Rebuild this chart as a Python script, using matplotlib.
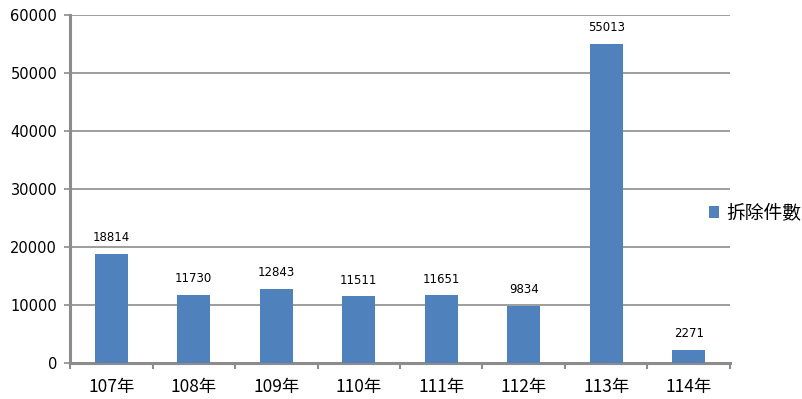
import matplotlib
matplotlib.use('Agg')
import matplotlib.pyplot as plt
import numpy as np

# data
years = ['107年', '108年', '109年', '110年', '111年', '112年', '113年', '114年']
counts = [18814, 11730, 12843, 11511, 11651, 9834, 55013, 2271]
series_name = '拆除件數'
y_ticks = [0, 10000, 20000, 30000, 40000, 50000, 60000]

bar_color = '#4F81BD'
grid_color = '#8C8C8C'
cjk = ['Noto Sans CJK TC', 'DejaVu Sans']

fig = plt.figure(figsize=(8.02, 3.99), dpi=100)
ax = fig.add_axes([0.0873, 0.0902, 0.8229, 0.8722])

x = np.arange(len(years))
bars = ax.bar(x, counts, width=0.4, color=bar_color, label=series_name, zorder=3)

# value labels above each bar
for xi, v in zip(x, counts):
  ax.annotate(str(v), (xi, v), xytext=(0, 7), textcoords='offset points',
              ha='center', va='bottom', fontsize=8.5, family='DejaVu Sans')

ax.set_xlim(-0.5, len(years) - 0.5)
ax.set_ylim(0, 60000)
ax.set_yticks(y_ticks)
ax.set_yticklabels([str(t) for t in y_ticks], fontsize=10.5)
ax.yaxis.grid(True, color=grid_color, linewidth=1.2, zorder=0)

# category labels centred, tick marks between categories
ax.set_xticks(x)
ax.set_xticklabels(years, fontsize=12.5, family=cjk)
ax.set_xticks(np.arange(-0.5, len(years)), minor=True)
ax.tick_params(axis='x', which='major', length=0, pad=11)
ax.tick_params(axis='x', which='minor', length=4.3, width=1.5, color=grid_color)
ax.tick_params(axis='y', length=4.3, width=1.2, color=grid_color, pad=5)

for side in ['top', 'right']:
  ax.spines[side].set_visible(False)
for side in ['left', 'bottom']:
  ax.spines[side].set_color(grid_color)
  ax.spines[side].set_linewidth(2.2)

leg = ax.legend(loc='center left', bbox_to_anchor=(0.968, 0.431), frameon=False,
                prop={'family': cjk, 'size': 13.5}, handlelength=0.55,
                handleheight=0.55, handletextpad=0.4, borderpad=0,
                borderaxespad=0)

fig.savefig('out.png', dpi=100)
